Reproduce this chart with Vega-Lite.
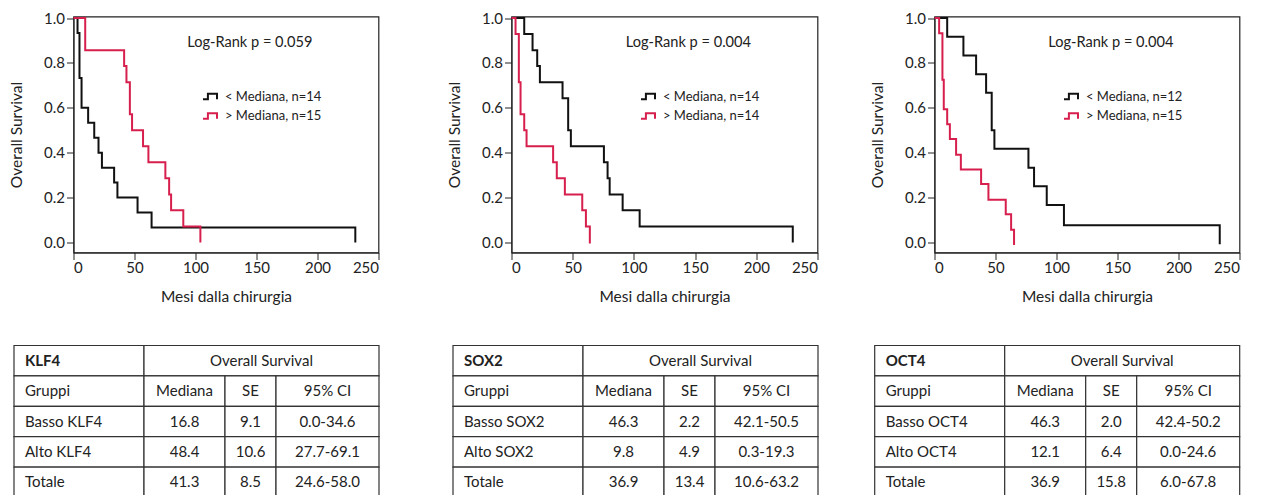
{
  "$schema": "https://vega.github.io/schema/vega-lite/v6.json",
  "background": "white",
  "padding": {"left": 8.5, "top": 9.5, "right": 5, "bottom": 0},
  "config": {
    "font": "Lato",
    "view": {"stroke": "#222", "strokeWidth": 1.2},
    "axis": {"grid": false, "domainColor": "#222", "tickColor": "#222", "labelColor": "#222", "titleColor": "#222", "labelFontSize": 15, "titleFontSize": 15.5, "titleFontWeight": "normal", "tickSize": 7, "labelPadding": 2},
    "axisY": {"titlePadding": 19},
    "axisX": {"titlePadding": 14, "labelPadding": 1},
    "legend": {"orient": "none", "legendX": 128.5, "legendY": 72, "symbolType": "M-1,0.4H-0.3V-0.4H1V0.4", "symbolSize": 196, "symbolStrokeWidth": 2, "labelFontSize": 13, "labelColor": "#222", "rowPadding": 4.5, "padding": 0, "labelOffset": 7, "symbolFillColor": "transparent"},
    "text": {"color": "#222"}
  },
  "datasets": {
    "km": [
      {"panel": "KLF4", "group": "< Mediana, n=14", "t": 0, "s": 1},
      {"panel": "KLF4", "group": "< Mediana, n=14", "t": 3.3, "s": 0.933},
      {"panel": "KLF4", "group": "< Mediana, n=14", "t": 4.9, "s": 0.733},
      {"panel": "KLF4", "group": "< Mediana, n=14", "t": 6.6, "s": 0.6},
      {"panel": "KLF4", "group": "< Mediana, n=14", "t": 12, "s": 0.533},
      {"panel": "KLF4", "group": "< Mediana, n=14", "t": 17, "s": 0.467},
      {"panel": "KLF4", "group": "< Mediana, n=14", "t": 20.5, "s": 0.4},
      {"panel": "KLF4", "group": "< Mediana, n=14", "t": 23.3, "s": 0.333},
      {"panel": "KLF4", "group": "< Mediana, n=14", "t": 33.3, "s": 0.267},
      {"panel": "KLF4", "group": "< Mediana, n=14", "t": 36, "s": 0.2},
      {"panel": "KLF4", "group": "< Mediana, n=14", "t": 52.5, "s": 0.133},
      {"panel": "KLF4", "group": "< Mediana, n=14", "t": 64, "s": 0.067},
      {"panel": "KLF4", "group": "< Mediana, n=14", "t": 231, "s": 0},
      {"panel": "KLF4", "group": "> Mediana, n=15", "t": 0, "s": 1},
      {"panel": "KLF4", "group": "> Mediana, n=15", "t": 9.6, "s": 0.857},
      {"panel": "KLF4", "group": "> Mediana, n=15", "t": 41.5, "s": 0.786},
      {"panel": "KLF4", "group": "> Mediana, n=15", "t": 43.4, "s": 0.714},
      {"panel": "KLF4", "group": "> Mediana, n=15", "t": 46.2, "s": 0.571},
      {"panel": "KLF4", "group": "> Mediana, n=15", "t": 48, "s": 0.5},
      {"panel": "KLF4", "group": "> Mediana, n=15", "t": 57, "s": 0.429},
      {"panel": "KLF4", "group": "> Mediana, n=15", "t": 61.4, "s": 0.357},
      {"panel": "KLF4", "group": "> Mediana, n=15", "t": 75.3, "s": 0.286},
      {"panel": "KLF4", "group": "> Mediana, n=15", "t": 78.4, "s": 0.214},
      {"panel": "KLF4", "group": "> Mediana, n=15", "t": 80, "s": 0.143},
      {"panel": "KLF4", "group": "> Mediana, n=15", "t": 90, "s": 0.071},
      {"panel": "KLF4", "group": "> Mediana, n=15", "t": 104, "s": 0},
      {"panel": "SOX2", "group": "< Mediana, n=14", "t": 0, "s": 1},
      {"panel": "SOX2", "group": "< Mediana, n=14", "t": 10.4, "s": 0.929},
      {"panel": "SOX2", "group": "< Mediana, n=14", "t": 17.2, "s": 0.857},
      {"panel": "SOX2", "group": "< Mediana, n=14", "t": 21, "s": 0.786},
      {"panel": "SOX2", "group": "< Mediana, n=14", "t": 23.2, "s": 0.714},
      {"panel": "SOX2", "group": "< Mediana, n=14", "t": 41.7, "s": 0.643},
      {"panel": "SOX2", "group": "< Mediana, n=14", "t": 46.3, "s": 0.5},
      {"panel": "SOX2", "group": "< Mediana, n=14", "t": 48.5, "s": 0.429},
      {"panel": "SOX2", "group": "< Mediana, n=14", "t": 75.5, "s": 0.357},
      {"panel": "SOX2", "group": "< Mediana, n=14", "t": 78.5, "s": 0.286},
      {"panel": "SOX2", "group": "< Mediana, n=14", "t": 80.2, "s": 0.214},
      {"panel": "SOX2", "group": "< Mediana, n=14", "t": 90.8, "s": 0.143},
      {"panel": "SOX2", "group": "< Mediana, n=14", "t": 104.7, "s": 0.071},
      {"panel": "SOX2", "group": "< Mediana, n=14", "t": 229.8, "s": 0},
      {"panel": "SOX2", "group": "> Mediana, n=14", "t": 0, "s": 1},
      {"panel": "SOX2", "group": "> Mediana, n=14", "t": 3.3, "s": 0.929},
      {"panel": "SOX2", "group": "> Mediana, n=14", "t": 6, "s": 0.714},
      {"panel": "SOX2", "group": "> Mediana, n=14", "t": 7.4, "s": 0.571},
      {"panel": "SOX2", "group": "> Mediana, n=14", "t": 10.4, "s": 0.5},
      {"panel": "SOX2", "group": "> Mediana, n=14", "t": 12.3, "s": 0.429},
      {"panel": "SOX2", "group": "> Mediana, n=14", "t": 34, "s": 0.357},
      {"panel": "SOX2", "group": "> Mediana, n=14", "t": 37, "s": 0.286},
      {"panel": "SOX2", "group": "> Mediana, n=14", "t": 43.6, "s": 0.214},
      {"panel": "SOX2", "group": "> Mediana, n=14", "t": 57.8, "s": 0.143},
      {"panel": "SOX2", "group": "> Mediana, n=14", "t": 60.8, "s": 0.071},
      {"panel": "SOX2", "group": "> Mediana, n=14", "t": 64, "s": -0.005},
      {"panel": "OCT4", "group": "< Mediana, n=12", "t": 0, "s": 1},
      {"panel": "OCT4", "group": "< Mediana, n=12", "t": 10.4, "s": 0.917},
      {"panel": "OCT4", "group": "< Mediana, n=12", "t": 23.7, "s": 0.833},
      {"panel": "OCT4", "group": "< Mediana, n=12", "t": 34.1, "s": 0.75},
      {"panel": "OCT4", "group": "< Mediana, n=12", "t": 42.3, "s": 0.667},
      {"panel": "OCT4", "group": "< Mediana, n=12", "t": 46.9, "s": 0.5},
      {"panel": "OCT4", "group": "< Mediana, n=12", "t": 49.1, "s": 0.417},
      {"panel": "OCT4", "group": "< Mediana, n=12", "t": 77, "s": 0.333},
      {"panel": "OCT4", "group": "< Mediana, n=12", "t": 81.6, "s": 0.25},
      {"panel": "OCT4", "group": "< Mediana, n=12", "t": 92, "s": 0.167},
      {"panel": "OCT4", "group": "< Mediana, n=12", "t": 106.1, "s": 0.077},
      {"panel": "OCT4", "group": "< Mediana, n=12", "t": 233.8, "s": -0.008},
      {"panel": "OCT4", "group": "> Mediana, n=15", "t": 0, "s": 1},
      {"panel": "OCT4", "group": "> Mediana, n=15", "t": 3.8, "s": 0.932},
      {"panel": "OCT4", "group": "> Mediana, n=15", "t": 6.5, "s": 0.725},
      {"panel": "OCT4", "group": "> Mediana, n=15", "t": 7.6, "s": 0.594},
      {"panel": "OCT4", "group": "> Mediana, n=15", "t": 10.4, "s": 0.527},
      {"panel": "OCT4", "group": "> Mediana, n=15", "t": 12.6, "s": 0.461},
      {"panel": "OCT4", "group": "> Mediana, n=15", "t": 17.7, "s": 0.391},
      {"panel": "OCT4", "group": "> Mediana, n=15", "t": 21.6, "s": 0.325},
      {"panel": "OCT4", "group": "> Mediana, n=15", "t": 38.2, "s": 0.26},
      {"panel": "OCT4", "group": "> Mediana, n=15", "t": 44.2, "s": 0.19},
      {"panel": "OCT4", "group": "> Mediana, n=15", "t": 58.4, "s": 0.126},
      {"panel": "OCT4", "group": "> Mediana, n=15", "t": 62.8, "s": 0.056},
      {"panel": "OCT4", "group": "> Mediana, n=15", "t": 65.2, "s": -0.012}
    ],
    "stats": [
      {"panel": "KLF4", "p": "Log-Rank p = 0.059"},
      {"panel": "SOX2", "p": "Log-Rank p = 0.004"},
      {"panel": "OCT4", "p": "Log-Rank p = 0.004"}
    ],
    "edges": [
      {"c": 0, "e": 0}, {"c": 1, "e": 130}, {"c": 2, "e": 211}, {"c": 3, "e": 262}, {"c": 4, "e": 365}
    ],
    "cells": [
      {"tab": "KLF4", "r": 0, "c0": 0, "c1": 1, "text": "KLF4"},
      {"tab": "KLF4", "r": 0, "c0": 1, "c1": 4, "text": "Overall Survival"},
      {"tab": "KLF4", "r": 1, "c0": 0, "c1": 1, "text": "Gruppi"},
      {"tab": "KLF4", "r": 1, "c0": 1, "c1": 2, "text": "Mediana"},
      {"tab": "KLF4", "r": 1, "c0": 2, "c1": 3, "text": "SE"},
      {"tab": "KLF4", "r": 1, "c0": 3, "c1": 4, "text": "95% CI"},
      {"tab": "KLF4", "r": 2, "c0": 0, "c1": 1, "text": "Basso KLF4"},
      {"tab": "KLF4", "r": 2, "c0": 1, "c1": 2, "text": "16.8"},
      {"tab": "KLF4", "r": 2, "c0": 2, "c1": 3, "text": "9.1"},
      {"tab": "KLF4", "r": 2, "c0": 3, "c1": 4, "text": "0.0-34.6"},
      {"tab": "KLF4", "r": 3, "c0": 0, "c1": 1, "text": "Alto KLF4"},
      {"tab": "KLF4", "r": 3, "c0": 1, "c1": 2, "text": "48.4"},
      {"tab": "KLF4", "r": 3, "c0": 2, "c1": 3, "text": "10.6"},
      {"tab": "KLF4", "r": 3, "c0": 3, "c1": 4, "text": "27.7-69.1"},
      {"tab": "KLF4", "r": 4, "c0": 0, "c1": 1, "text": "Totale"},
      {"tab": "KLF4", "r": 4, "c0": 1, "c1": 2, "text": "41.3"},
      {"tab": "KLF4", "r": 4, "c0": 2, "c1": 3, "text": "8.5"},
      {"tab": "KLF4", "r": 4, "c0": 3, "c1": 4, "text": "24.6-58.0"},
      {"tab": "SOX2", "r": 0, "c0": 0, "c1": 1, "text": "SOX2"},
      {"tab": "SOX2", "r": 0, "c0": 1, "c1": 4, "text": "Overall Survival"},
      {"tab": "SOX2", "r": 1, "c0": 0, "c1": 1, "text": "Gruppi"},
      {"tab": "SOX2", "r": 1, "c0": 1, "c1": 2, "text": "Mediana"},
      {"tab": "SOX2", "r": 1, "c0": 2, "c1": 3, "text": "SE"},
      {"tab": "SOX2", "r": 1, "c0": 3, "c1": 4, "text": "95% CI"},
      {"tab": "SOX2", "r": 2, "c0": 0, "c1": 1, "text": "Basso SOX2"},
      {"tab": "SOX2", "r": 2, "c0": 1, "c1": 2, "text": "46.3"},
      {"tab": "SOX2", "r": 2, "c0": 2, "c1": 3, "text": "2.2"},
      {"tab": "SOX2", "r": 2, "c0": 3, "c1": 4, "text": "42.1-50.5"},
      {"tab": "SOX2", "r": 3, "c0": 0, "c1": 1, "text": "Alto SOX2"},
      {"tab": "SOX2", "r": 3, "c0": 1, "c1": 2, "text": "9.8"},
      {"tab": "SOX2", "r": 3, "c0": 2, "c1": 3, "text": "4.9"},
      {"tab": "SOX2", "r": 3, "c0": 3, "c1": 4, "text": "0.3-19.3"},
      {"tab": "SOX2", "r": 4, "c0": 0, "c1": 1, "text": "Totale"},
      {"tab": "SOX2", "r": 4, "c0": 1, "c1": 2, "text": "36.9"},
      {"tab": "SOX2", "r": 4, "c0": 2, "c1": 3, "text": "13.4"},
      {"tab": "SOX2", "r": 4, "c0": 3, "c1": 4, "text": "10.6-63.2"},
      {"tab": "OCT4", "r": 0, "c0": 0, "c1": 1, "text": "OCT4"},
      {"tab": "OCT4", "r": 0, "c0": 1, "c1": 4, "text": "Overall Survival"},
      {"tab": "OCT4", "r": 1, "c0": 0, "c1": 1, "text": "Gruppi"},
      {"tab": "OCT4", "r": 1, "c0": 1, "c1": 2, "text": "Mediana"},
      {"tab": "OCT4", "r": 1, "c0": 2, "c1": 3, "text": "SE"},
      {"tab": "OCT4", "r": 1, "c0": 3, "c1": 4, "text": "95% CI"},
      {"tab": "OCT4", "r": 2, "c0": 0, "c1": 1, "text": "Basso OCT4"},
      {"tab": "OCT4", "r": 2, "c0": 1, "c1": 2, "text": "46.3"},
      {"tab": "OCT4", "r": 2, "c0": 2, "c1": 3, "text": "2.0"},
      {"tab": "OCT4", "r": 2, "c0": 3, "c1": 4, "text": "42.4-50.2"},
      {"tab": "OCT4", "r": 3, "c0": 0, "c1": 1, "text": "Alto OCT4"},
      {"tab": "OCT4", "r": 3, "c0": 1, "c1": 2, "text": "12.1"},
      {"tab": "OCT4", "r": 3, "c0": 2, "c1": 3, "text": "6.4"},
      {"tab": "OCT4", "r": 3, "c0": 3, "c1": 4, "text": "0.0-24.6"},
      {"tab": "OCT4", "r": 4, "c0": 0, "c1": 1, "text": "Totale"},
      {"tab": "OCT4", "r": 4, "c0": 1, "c1": 2, "text": "36.9"},
      {"tab": "OCT4", "r": 4, "c0": 2, "c1": 3, "text": "15.8"},
      {"tab": "OCT4", "r": 4, "c0": 3, "c1": 4, "text": "6.0-67.8"}
    ]
  },
  "columns": 3,
  "bounds": "flush",
  "align": "each",
  "spacing": {"row": 93, "column": 117},
  "resolve": {"scale": {"x": "independent", "y": "independent", "color": "independent"}, "axis": {"x": "independent", "y": "independent"}, "legend": {"color": "independent"}},
  "concat": [
    {
      "width": 305, "height": 236,
      "layer": [
        {
          "data": {"name": "km"},
          "transform": [{"filter": "datum.panel == 'KLF4'"}],
          "mark": {"type": "line", "interpolate": "step-after", "strokeWidth": 2},
          "encoding": {
            "x": {"field": "t", "type": "quantitative", "scale": {"domain": [0, 250], "nice": false}, "axis": {"values": [0, 50, 100, 150, 200, 250], "title": "Mesi dalla chirurgia"}},
            "y": {"field": "s", "type": "quantitative", "scale": {"domain": [-0.045, 1.007], "nice": false}, "axis": {"values": [0, 0.2, 0.4, 0.6, 0.8, 1], "format": ".1f", "title": "Overall Survival"}},
            "color": {"field": "group", "type": "nominal", "scale": {"domain": ["< Mediana, n=14", "> Mediana, n=15"], "range": ["#111111", "#d71f4d"]}, "legend": {"title": null}}
          }
        },
        {
          "data": {"name": "stats"},
          "transform": [{"filter": "datum.panel == 'KLF4'"}],
          "mark": {"type": "text", "fontSize": 14.6},
          "encoding": {"x": {"datum": 144.5}, "y": {"datum": 0.887}, "text": {"field": "p"}}
        }
      ]
    },
    {
      "width": 306, "height": 236,
      "layer": [
        {
          "data": {"name": "km"},
          "transform": [{"filter": "datum.panel == 'SOX2'"}],
          "mark": {"type": "line", "interpolate": "step-after", "strokeWidth": 2},
          "encoding": {
            "x": {"field": "t", "type": "quantitative", "scale": {"domain": [0, 250], "nice": false}, "axis": {"values": [0, 50, 100, 150, 200, 250], "title": "Mesi dalla chirurgia"}},
            "y": {"field": "s", "type": "quantitative", "scale": {"domain": [-0.045, 1.007], "nice": false}, "axis": {"values": [0, 0.2, 0.4, 0.6, 0.8, 1], "format": ".1f", "title": "Overall Survival"}},
            "color": {"field": "group", "type": "nominal", "scale": {"domain": ["< Mediana, n=14", "> Mediana, n=14"], "range": ["#111111", "#d71f4d"]}, "legend": {"title": null}}
          }
        },
        {
          "data": {"name": "stats"},
          "transform": [{"filter": "datum.panel == 'SOX2'"}],
          "mark": {"type": "text", "fontSize": 14.6},
          "encoding": {"x": {"datum": 144.5}, "y": {"datum": 0.887}, "text": {"field": "p"}}
        }
      ]
    },
    {
      "width": 305, "height": 236,
      "layer": [
        {
          "data": {"name": "km"},
          "transform": [{"filter": "datum.panel == 'OCT4'"}],
          "mark": {"type": "line", "interpolate": "step-after", "strokeWidth": 2},
          "encoding": {
            "x": {"field": "t", "type": "quantitative", "scale": {"domain": [0, 250], "nice": false}, "axis": {"values": [0, 50, 100, 150, 200, 250], "title": "Mesi dalla chirurgia"}},
            "y": {"field": "s", "type": "quantitative", "scale": {"domain": [-0.045, 1.007], "nice": false}, "axis": {"values": [0, 0.2, 0.4, 0.6, 0.8, 1], "format": ".1f", "title": "Overall Survival"}},
            "color": {"field": "group", "type": "nominal", "scale": {"domain": ["< Mediana, n=12", "> Mediana, n=15"], "range": ["#111111", "#d71f4d"]}, "legend": {"title": null}}
          }
        },
        {
          "data": {"name": "stats"},
          "transform": [{"filter": "datum.panel == 'OCT4'"}],
          "mark": {"type": "text", "fontSize": 14.6},
          "encoding": {"x": {"datum": 144.5}, "y": {"datum": 0.887}, "text": {"field": "p"}}
        }
      ]
    },
    {
      "width": 321, "height": 152,
      "view": {"stroke": null},
      "data": {"name": "cells"},
      "transform": [
        {"filter": "datum.tab == 'KLF4'"},
        {"lookup": "c0", "from": {"data": {"name": "edges"}, "key": "c", "fields": ["e"]}, "as": ["x0"]},
        {"lookup": "c1", "from": {"data": {"name": "edges"}, "key": "c", "fields": ["e"]}, "as": ["x1"]},
        {"calculate": "(datum.x0 + datum.x1) / 2", "as": "xm"}
      ],
      "encoding": {
        "y": {"field": "r", "type": "ordinal", "axis": null, "scale": {"paddingInner": 0, "paddingOuter": 0}}
      },
      "layer": [
        {"mark": {"type": "rect", "fill": "white", "stroke": "#333", "strokeWidth": 1.2},
         "encoding": {"x": {"field": "x0", "type": "quantitative", "scale": {"domain": [59.5, 380.5], "nice": false}, "axis": null}, "x2": {"field": "x1"}}},
        {"transform": [{"filter": "datum.c0 == 0 && datum.r > 0"}],
         "mark": {"type": "text", "align": "left", "dx": 11, "fontSize": 15},
         "encoding": {"x": {"field": "x0", "type": "quantitative"}, "text": {"field": "text"}}},
        {"transform": [{"filter": "datum.c0 == 0 && datum.r == 0"}],
         "mark": {"type": "text", "align": "left", "dx": 11, "fontSize": 15, "fontWeight": "bold"},
         "encoding": {"x": {"field": "x0", "type": "quantitative"}, "text": {"field": "text"}}},
        {"transform": [{"filter": "datum.c0 > 0"}],
         "mark": {"type": "text", "align": "center", "fontSize": 15},
         "encoding": {"x": {"field": "xm", "type": "quantitative"}, "text": {"field": "text"}}}
      ]
    },
    {
      "width": 306, "height": 152,
      "view": {"stroke": null},
      "data": {"name": "cells"},
      "transform": [
        {"filter": "datum.tab == 'SOX2'"},
        {"lookup": "c0", "from": {"data": {"name": "edges"}, "key": "c", "fields": ["e"]}, "as": ["x0"]},
        {"lookup": "c1", "from": {"data": {"name": "edges"}, "key": "c", "fields": ["e"]}, "as": ["x1"]},
        {"calculate": "(datum.x0 + datum.x1) / 2", "as": "xm"}
      ],
      "encoding": {
        "y": {"field": "r", "type": "ordinal", "axis": null, "scale": {"paddingInner": 0, "paddingOuter": 0}}
      },
      "layer": [
        {"mark": {"type": "rect", "fill": "white", "stroke": "#333", "strokeWidth": 1.2},
         "encoding": {"x": {"field": "x0", "type": "quantitative", "scale": {"domain": [58.5, 364.5], "nice": false}, "axis": null}, "x2": {"field": "x1"}}},
        {"transform": [{"filter": "datum.c0 == 0 && datum.r > 0"}],
         "mark": {"type": "text", "align": "left", "dx": 11, "fontSize": 15},
         "encoding": {"x": {"field": "x0", "type": "quantitative"}, "text": {"field": "text"}}},
        {"transform": [{"filter": "datum.c0 == 0 && datum.r == 0"}],
         "mark": {"type": "text", "align": "left", "dx": 11, "fontSize": 15, "fontWeight": "bold"},
         "encoding": {"x": {"field": "x0", "type": "quantitative"}, "text": {"field": "text"}}},
        {"transform": [{"filter": "datum.c0 > 0"}],
         "mark": {"type": "text", "align": "center", "fontSize": 15},
         "encoding": {"x": {"field": "xm", "type": "quantitative"}, "text": {"field": "text"}}}
      ]
    },
    {
      "width": 305, "height": 152,
      "view": {"stroke": null},
      "data": {"name": "cells"},
      "transform": [
        {"filter": "datum.tab == 'OCT4'"},
        {"lookup": "c0", "from": {"data": {"name": "edges"}, "key": "c", "fields": ["e"]}, "as": ["x0"]},
        {"lookup": "c1", "from": {"data": {"name": "edges"}, "key": "c", "fields": ["e"]}, "as": ["x1"]},
        {"calculate": "(datum.x0 + datum.x1) / 2", "as": "xm"}
      ],
      "encoding": {
        "y": {"field": "r", "type": "ordinal", "axis": null, "scale": {"paddingInner": 0, "paddingOuter": 0}}
      },
      "layer": [
        {"mark": {"type": "rect", "fill": "white", "stroke": "#333", "strokeWidth": 1.2},
         "encoding": {"x": {"field": "x0", "type": "quantitative", "scale": {"domain": [59.8, 364.8], "nice": false}, "axis": null}, "x2": {"field": "x1"}}},
        {"transform": [{"filter": "datum.c0 == 0 && datum.r > 0"}],
         "mark": {"type": "text", "align": "left", "dx": 11, "fontSize": 15},
         "encoding": {"x": {"field": "x0", "type": "quantitative"}, "text": {"field": "text"}}},
        {"transform": [{"filter": "datum.c0 == 0 && datum.r == 0"}],
         "mark": {"type": "text", "align": "left", "dx": 11, "fontSize": 15, "fontWeight": "bold"},
         "encoding": {"x": {"field": "x0", "type": "quantitative"}, "text": {"field": "text"}}},
        {"transform": [{"filter": "datum.c0 > 0"}],
         "mark": {"type": "text", "align": "center", "fontSize": 15},
         "encoding": {"x": {"field": "xm", "type": "quantitative"}, "text": {"field": "text"}}}
      ]
    }
  ]
}
